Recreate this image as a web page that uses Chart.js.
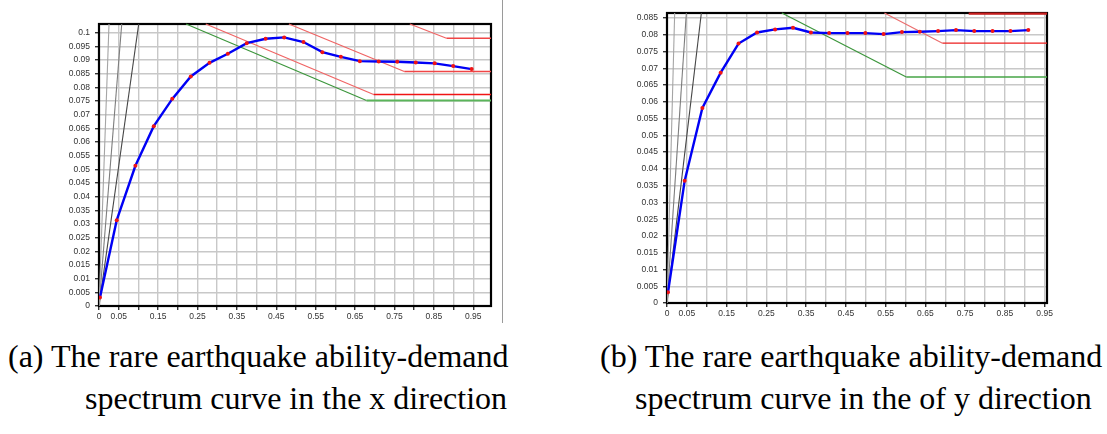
<!DOCTYPE html>
<html>
<head>
<meta charset="utf-8">
<script src="https://cdn.jsdelivr.net/npm/chart.js@4.4.0/dist/chart.umd.min.js"></script>
<style>
  html, body { margin:0; padding:0; background:#fff; }
  body { width:1107px; height:434px; position:relative; overflow:hidden; }
  canvas { position:absolute; top:0; }
  #cA { left:0; }
  #cB { left:560px; }
  .sep { position:absolute; left:502px; top:0; width:1px; height:323px; background:#9a9a9a; }
  .cap { position:absolute; font-family:"Liberation Serif","Times New Roman",serif; font-size:32px; line-height:32px; color:#000; white-space:nowrap; }
</style>
</head>
<body>
<canvas id="cA" width="520" height="330"></canvas>
<canvas id="cB" width="547" height="330"></canvas>
<div class="sep"></div>
<div class="cap" style="left:8px; top:340px;">(a) The rare earthquake ability-demand</div>
<div class="cap" style="left:85px; top:382px;">spectrum curve in the x direction</div>
<div class="cap" style="left:600px; top:340px;">(b) The rare earthquake ability-demand</div>
<div class="cap" style="left:635px; top:382px;">spectrum curve in the of y direction</div>
<script>
// ---------- DATA: chart (a), x direction ----------
const capXdirSd = [0.0025,0.045,0.0924,0.139,0.186,0.233,0.2805,0.327,0.375,0.423,0.470,0.519,0.567,0.614,0.662,0.710,0.757,0.804,0.852,0.899,0.946];
const capXdirSa = [0.0031,0.0314,0.0513,0.0658,0.0758,0.0840,0.0890,0.0923,0.0962,0.0978,0.0983,0.0966,0.0929,0.0912,0.0896,0.0895,0.0894,0.0891,0.0888,0.0878,0.0867];
const demXGreenSd = [0.221,0.679,0.995];
const demXGreenSa = [0.1032,0.0752,0.0752];
const demXRed1Sd = [0.271,0.697,0.995];
const demXRed1Sa = [0.1032,0.0774,0.0774];
const demXRed2Sd = [0.482,0.775,0.995];
const demXRed2Sa = [0.1032,0.0858,0.0858];
const demXRed3Sd = [0.789,0.882,0.995];
const demXRed3Sa = [0.1032,0.0980,0.0980];
const periodXTopSd = [0.0254,0.0577,0.1008];   // radial period lines, Sd where they reach the top
const periodXTopSa = 0.1032;

// ---------- DATA: chart (b), y direction ----------
const capYdirSd = [0.0025,0.0445,0.089,0.135,0.180,0.2265,0.272,0.317,0.362,0.408,0.454,0.499,0.545,0.591,0.636,0.682,0.727,0.773,0.819,0.864,0.909];
const capYdirSa = [0.0032,0.0365,0.0582,0.0687,0.0774,0.0807,0.0816,0.0821,0.0807,0.0805,0.0805,0.0805,0.0802,0.0808,0.0809,0.0811,0.0814,0.0811,0.0811,0.0811,0.0814];
const demYGreenSd = [0.289,0.602,0.956];
const demYGreenSa = [0.0865,0.0674,0.0674];
const demYRed1Sd = [0.547,0.693,0.956];
const demYRed1Sa = [0.0865,0.0775,0.0775];
const demYRed2Sd = [0.759,0.956];
const demYRed2Sa = [0.0863,0.0863];
const periodYTopSd = [0.0193,0.0487,0.0864];
const periodYTopSa = 0.0865;

// ---------- TICKS ----------
const xTickValues = [0,0.05,0.1,0.15,0.2,0.25,0.3,0.35,0.4,0.45,0.5,0.55,0.6,0.65,0.7,0.75,0.8,0.85,0.9,0.95];
const xTickLabels = ['0','0.05','','0.15','','0.25','','0.35','','0.45','','0.55','','0.65','','0.75','','0.85','','0.95'];
const yTickValuesA = [0,0.005,0.01,0.015,0.02,0.025,0.03,0.035,0.04,0.045,0.05,0.055,0.06,0.065,0.07,0.075,0.08,0.085,0.09,0.095,0.1];
const yTickLabelsA = ['0','0.005','0.01','0.015','0.02','0.025','0.03','0.035','0.04','0.045','0.05','0.055','0.06','0.065','0.07','0.075','0.08','0.085','0.09','0.095','0.1'];
const yTickValuesB = [0,0.005,0.01,0.015,0.02,0.025,0.03,0.035,0.04,0.045,0.05,0.055,0.06,0.065,0.07,0.075,0.08,0.085];
const yTickLabelsB = ['0','0.005','0.01','0.015','0.02','0.025','0.03','0.035','0.04','0.045','0.05','0.055','0.06','0.065','0.07','0.075','0.08','0.085'];

// ---------- helpers ----------
const pts = (xs, ys) => xs.map((x,i)=>({x:x, y:ys[i]}));
const periodColors = ['rgb(165,165,165)','rgb(125,125,125)','rgb(70,70,70)'];

const framePlugin = {
  id:'frame',
  beforeDatasetsDraw(chart){
    const {ctx, chartArea:a} = chart;
    ctx.save();
    ctx.strokeStyle = '#000';
    ctx.lineWidth = 2.2;
    ctx.strokeRect(a.left, a.top, a.right-a.left, a.bottom-a.top);
    ctx.restore();
  }
};

function demandDS(xs, ys, slopeCol, flatCol, flatW){
  return {
    data: pts(xs, ys), showLine:true, pointRadius:0, borderWidth:1.2, borderColor:slopeCol,
    segment:{
      borderColor: c => (c.p0.parsed.y === c.p1.parsed.y ? flatCol : slopeCol),
      borderWidth: c => (c.p0.parsed.y === c.p1.parsed.y ? flatW : 1.2)
    },
    clip: 2
  };
}

function makeChart(id, cfg){
  const datasets = [];
  datasets.push({
    data: pts(cfg.capSd, cfg.capSa), showLine:true, borderColor:'rgb(0,0,245)', borderWidth:2.4,
    pointRadius:2, pointStyle:'circle', pointBackgroundColor:'rgb(240,20,20)', pointBorderColor:'rgb(240,20,20)', pointBorderWidth:0,
    tension:0
  });
  cfg.demands.forEach(d => datasets.push(demandDS(d[0], d[1], d[2], d[3], d[4])));
  cfg.periodSd.forEach((sd,i) => datasets.push({
    data:[{x:0,y:0},{x:sd,y:cfg.periodSa}], showLine:true, pointRadius:0, borderWidth:1.1, borderColor:periodColors[i]
  }));
  return new Chart(document.getElementById(id), {
    type:'scatter',
    data:{ datasets },
    plugins:[framePlugin],
    options:{
      responsive:false, animation:false, devicePixelRatio:1,
      layout:{ padding: cfg.padding },
      plugins:{ legend:{display:false}, tooltip:{enabled:false} },
      scales:{
        x:{
          type:'linear', min:0, max:cfg.xMax,
          afterBuildTicks: ax => { ax.ticks = xTickValues.map(v=>({value:v})); },
          afterFit: s => { s.height = cfg.xH; },
          border:{display:false},
          grid:{ color:'rgb(200,200,200)', lineWidth:1.4, tickLength:4, tickColor:'#333', drawTicks:true },
          ticks:{ autoSkip:false, maxRotation:0, padding:2, color:'#333',
                  font:{family:'"Liberation Sans", Arial, sans-serif', size:8.5},
                  callback:(v,i)=> xTickLabels[i] }
        },
        y:{
          type:'linear', min:0, max:cfg.yMax,
          afterBuildTicks: ax => { ax.ticks = cfg.yVals.map(v=>({value:v})); },
          afterFit: s => { s.width = cfg.yW; },
          border:{display:false},
          grid:{ color:'rgb(200,200,200)', lineWidth:1.4, tickLength:4, tickColor:'#333', drawTicks:true },
          ticks:{ autoSkip:false, padding:5, color:'#333',
                  font:{family:'"Liberation Sans", Arial, sans-serif', size:8.5},
                  callback:(v,i)=> cfg.yLabels[i] }
        }
      }
    }
  });
}

makeChart('cA', {
  capSd:capXdirSd, capSa:capXdirSa,
  demands:[
    [demXGreenSd, demXGreenSa, 'rgb(60,150,60)', 'rgb(90,180,90)', 2],
    [demXRed1Sd, demXRed1Sa, 'rgb(240,100,100)', 'rgb(240,20,20)', 1.5],
    [demXRed2Sd, demXRed2Sa, 'rgb(240,100,100)', 'rgb(240,70,70)', 1.5],
    [demXRed3Sd, demXRed3Sa, 'rgb(240,100,100)', 'rgb(240,70,70)', 1.5]
  ],
  periodSd:periodXTopSd, periodSa:periodXTopSa,
  xMax:0.995, yMax:0.1032, yVals:yTickValuesA, yLabels:yTickLabelsA,
  padding:{left:0, top:24, right:29, bottom:0}, yW:99, xH:24
});

makeChart('cB', {
  capSd:capYdirSd, capSa:capYdirSa,
  demands:[
    [demYGreenSd, demYGreenSa, 'rgb(60,150,60)', 'rgb(70,165,70)', 1.4],
    [demYRed1Sd, demYRed1Sa, 'rgb(235,110,110)', 'rgb(235,30,30)', 1.4],
    [demYRed2Sd, demYRed2Sa, 'rgb(200,30,30)', 'rgb(200,30,30)', 2.2]
  ],
  periodSd:periodYTopSd, periodSa:periodYTopSa,
  xMax:0.956, yMax:0.0865, yVals:yTickValuesB, yLabels:yTickLabelsB,
  padding:{left:0, top:13, right:60, bottom:0}, yW:107, xH:27
});
</script>
</body>
</html>
